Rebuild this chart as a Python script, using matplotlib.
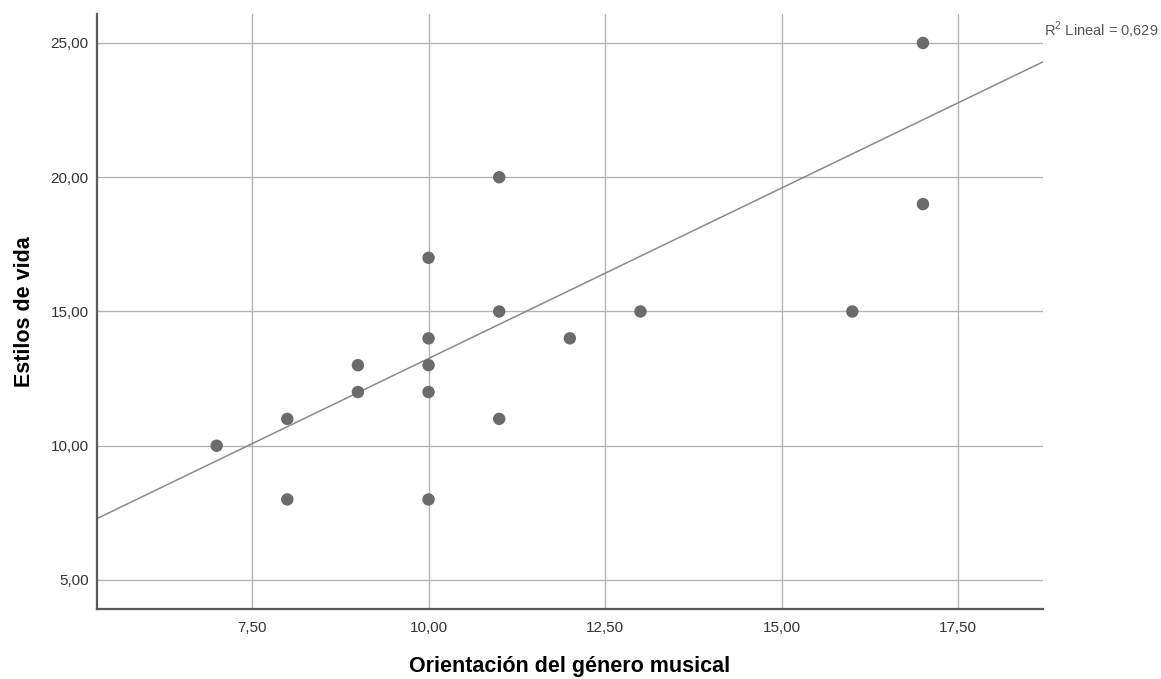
import numpy as np
import matplotlib
matplotlib.use('Agg')
import matplotlib.pyplot as plt
from matplotlib.ticker import FuncFormatter

plt.rcParams['font.family'] = ['Liberation Sans', 'DejaVu Sans']
plt.rcParams['mathtext.fontset'] = 'custom'
plt.rcParams['mathtext.rm'] = 'Liberation Sans'

# Datos
orientacion = [7, 8, 8, 9, 9, 10, 10, 10, 10, 10, 11, 11, 11, 12, 13, 16, 17, 17]
estilos = [10, 11, 8, 13, 12, 17, 14, 13, 12, 8, 20, 15, 11, 14, 15, 15, 25, 19]

# recta de ajuste y su R²
recta_intercepto = 0.55
recta_pendiente = 1.27
r2_texto = r'R$^{\mathregular{2}}$ Lineal = 0,629'

x_ticks = [7.5, 10.0, 12.5, 15.0, 17.5]
y_ticks = [5.0, 10.0, 15.0, 20.0, 25.0]

fig = plt.figure(figsize=(11.61, 6.79), dpi=100)
ax = fig.add_axes([0.0835, 0.1031, 0.8149, 0.8763])

ax.set_xlim(5.305, 18.70)
ax.set_ylim(3.92, 26.08)

# rejilla
ax.set_xticks(x_ticks)
ax.set_yticks(y_ticks)
ax.grid(True, color='#b4b4b4', linewidth=1.0)
ax.set_axisbelow(True)

coma = FuncFormatter(lambda v, p: f'{v:.2f}'.replace('.', ','))
ax.xaxis.set_major_formatter(coma)
ax.yaxis.set_major_formatter(coma)
ax.tick_params(axis='both', length=0, labelsize=11, colors='#333333')
ax.tick_params(axis='x', pad=9)
ax.tick_params(axis='y', pad=6)

for lado in ['top', 'right']:
    ax.spines[lado].set_visible(False)
for lado in ['left', 'bottom']:
    ax.spines[lado].set_color('#5a5a5a')
    ax.spines[lado].set_linewidth(1.6)

# recta de regresión
xr = np.array(ax.get_xlim())
ax.plot(xr, recta_intercepto + recta_pendiente * xr, color='#8a8a8a', linewidth=1.1, zorder=2)

# puntos
ax.scatter(orientacion, estilos, s=80, color='#6b6b6b', edgecolors='none', zorder=3)

ax.set_xlabel('Orientación del género musical', fontsize=15.5, fontweight='bold', labelpad=15)
ax.set_ylabel('Estilos de vida', fontsize=15.5, fontweight='bold', labelpad=11)

ax.text(1.001, 0.972, r2_texto, transform=ax.transAxes, fontsize=10.5, color='#555555',
        ha='left', va='center')

plt.savefig('out.png', dpi=100)
